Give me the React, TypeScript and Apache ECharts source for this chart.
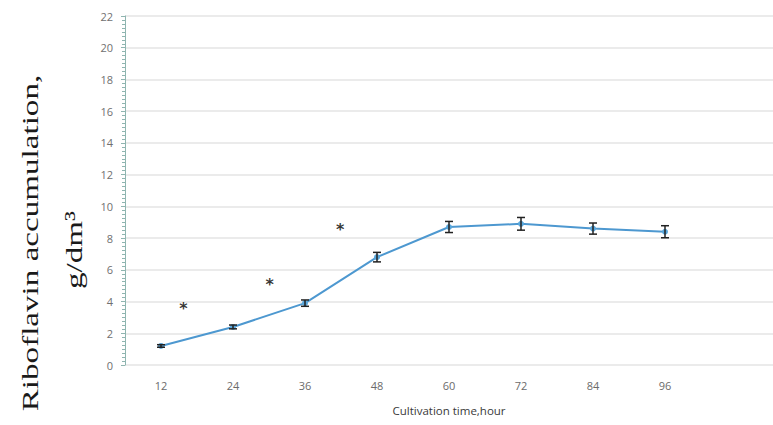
import React, { useEffect, useRef } from "react";
import * as echarts from "echarts";

const hours = ["12", "24", "36", "48", "60", "72", "84", "96", ""];
const riboflavin = [1.2, 2.4, 3.9, 6.8, 8.7, 8.9, 8.6, 8.4];
const errors = [0.08, 0.12, 0.2, 0.3, 0.35, 0.4, 0.35, 0.38];
const asteriskX = [0.31, 1.51, 2.49];
const asteriskY = [3.8, 5.3, 8.8];
const yTicks = { min: 0, max: 22, interval: 2 };

export default function App() {
  const ref = useRef<HTMLDivElement>(null);
  useEffect(() => {
    if (!ref.current) return;
    const chart = echarts.init(ref.current, undefined, { renderer: "svg" });
    const errData = riboflavin.map((v, i) => [i, v - errors[i], v + errors[i]]);
    const starData = asteriskX.map((x, i) => [x, asteriskY[i]]);
    chart.setOption({
      animation: false,
      backgroundColor: "#ffffff",
      grid: { left: 125, right: -9, top: 16, bottom: 60 },
      xAxis: [
        {
          type: "category",
          data: hours,
          boundaryGap: true,
          axisLine: { show: false },
          axisTick: { show: false },
          axisLabel: { color: "#6b6b6b", fontSize: 11, fontFamily: "Open Sans", margin: 15 },
          name: "Cultivation time,hour",
          nameLocation: "middle",
          nameGap: 39,
          nameTextStyle: { color: "#3a3a3a", fontSize: 11.5, fontFamily: "Open Sans" },
          splitLine: { show: false },
        },
        {
          type: "value",
          min: -0.5,
          max: 8.5,
          show: false,
        },
      ],
      yAxis: {
        type: "value",
        min: yTicks.min,
        max: yTicks.max,
        interval: yTicks.interval,
        axisLine: { show: true, onZero: false, lineStyle: { color: "#8fb5b0", width: 1 } },
        axisTick: { show: true, length: 4, lineStyle: { color: "#8fb5b0" } },
        minorTick: { show: true, splitNumber: 8, length: 3, lineStyle: { color: "#8fb5b0" } },
        axisLabel: { color: "#707070", fontSize: 11, fontFamily: "Open Sans", margin: 12 },
        splitLine: { show: true, lineStyle: { color: "#e4e4e4", width: 1.5 } },
      },
      series: [
        {
          type: "line",
          data: riboflavin,
          xAxisIndex: 0,
          symbol: "circle",
          symbolSize: 6,
          itemStyle: { color: "#5ba8dc" },
          lineStyle: { color: "#4d98d0", width: 2 },
          z: 3,
        },
        {
          type: "custom",
          xAxisIndex: 0,
          data: errData,
          encode: { x: 0, y: [1, 2] },
          z: 4,
          renderItem: (params: any, api: any) => {
            const i = api.value(0);
            const lo = api.coord([i, api.value(1)]);
            const hi = api.coord([i, api.value(2)]);
            const w = 4;
            const style = { stroke: "#222222", lineWidth: 1.5 };
            return {
              type: "group",
              children: [
                { type: "line", shape: { x1: lo[0], y1: lo[1], x2: hi[0], y2: hi[1] }, style },
                { type: "line", shape: { x1: lo[0] - w, y1: lo[1], x2: lo[0] + w, y2: lo[1] }, style },
                { type: "line", shape: { x1: hi[0] - w, y1: hi[1], x2: hi[0] + w, y2: hi[1] }, style },
              ],
            };
          },
        },
        {
          type: "scatter",
          xAxisIndex: 1,
          data: starData,
          symbolSize: 1,
          itemStyle: { color: "rgba(0,0,0,0)" },
          label: {
            show: true,
            position: "inside",
            formatter: "*",
            color: "#000000",
            fontSize: 16,
            fontWeight: "bold",
            fontFamily: "DejaVu Sans",
            offset: [0, 4],
          },
          z: 5,
        },
      ],
      graphic: [
        {
          type: "text",
          x: 30,
          y: 243,
          rotation: Math.PI / 2,
          scaleX: 1.38,
          scaleY: 1,
          style: {
            text: "Riboflavin accumulation,",
            fontFamily: "Liberation Serif",
            fontSize: 24,
            fill: "#1a1a1a",
            align: "center",
            verticalAlign: "middle",
          },
        },
        {
          type: "text",
          x: 74,
          y: 250,
          rotation: Math.PI / 2,
          scaleX: 1.38,
          scaleY: 1,
          style: {
            text: "g/dm³",
            fontFamily: "Liberation Serif",
            fontSize: 24,
            fill: "#1a1a1a",
            align: "center",
            verticalAlign: "middle",
          },
        },
      ],
    });
    return () => chart.dispose();
  }, []);
  return <div ref={ref} style={{ width: 773, height: 425, position: "absolute", left: 0, top: 0 }} />;
}
